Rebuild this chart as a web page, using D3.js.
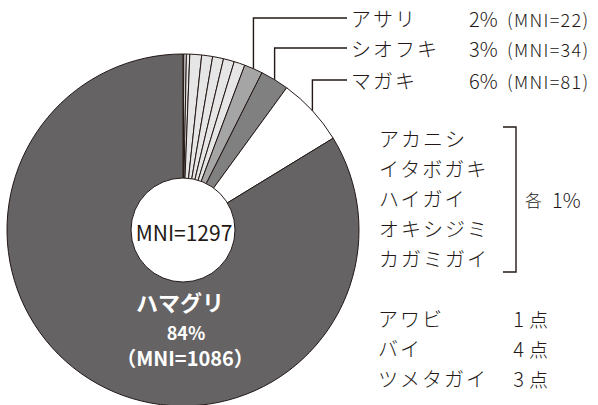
<!DOCTYPE html>
<html lang="ja">
<head>
<meta charset="utf-8">
<script src="https://cdn.jsdelivr.net/npm/d3@7"></script>
<style>
  html, body { margin: 0; padding: 0; background: #fff; }
  svg { display: block; }
  text { font-family: "Noto Sans CJK JP", "Noto Sans", sans-serif; fill: #231815; }
</style>
</head>
<body>
<svg id="chart" width="598" height="405"></svg>
<script>
// Shell-midden composition by MNI, clockwise from 12 o'clock
const species = ["アワビ", "ツメタガイ", "バイ",
                 "カガミガイ", "オキシジミ", "ハイガイ", "イタボガキ", "アカニシ",
                 "アサリ", "シオフキ", "マガキ", "ハマグリ"];
const mni     = [1, 3, 4,
                 14, 13, 13, 13, 13,
                 22, 34, 81, 1086];
const tone    = ["light", "light", "light",
                 "light", "light", "light", "light", "light",
                 "mid", "dark", "white", "main"];
const total = 1297;

// Labelled slices on the right with leader lines
const calloutNames = ["アサリ", "シオフキ", "マガキ"];
const calloutPct   = ["2%", "3%", "6%"];
const calloutMNI   = ["(MNI=22)", "(MNI=34)", "(MNI=81)"];

// 1% group and small counts
const onePctGroup  = ["アカニシ", "イタボガキ", "ハイガイ", "オキシジミ", "カガミガイ"];
const countNames   = ["アワビ", "バイ", "ツメタガイ"];
const countValues  = [1, 4, 3];

const fills = { light: "#e6e6e6", mid: "#a6a5a5", dark: "#818080", white: "#ffffff", main: "#656364" };
const ink = "#231815";

const svg = d3.select("#chart");
const cx = 183, cy = 230, R = 176, r0 = 52;
const g = svg.append("g").attr("transform", `translate(${cx},${cy})`);

const pie = d3.pie().sort(null).value(d => d.v).startAngle(0).endAngle(2 * Math.PI);
const data = species.map((s, i) => ({ name: s, v: mni[i], tone: tone[i] }));
const arcs = pie(data);
const arc = d3.arc().innerRadius(0).outerRadius(R);

g.selectAll("path.slice")
  .data(arcs)
  .join("path")
  .attr("class", "slice")
  .attr("d", arc)
  .attr("fill", d => fills[d.data.tone])
  .attr("stroke", ink)
  .attr("stroke-width", 1)
  .attr("stroke-linejoin", "round");

// centre hole
g.append("circle").attr("r", r0).attr("fill", "#fff").attr("stroke", ink).attr("stroke-width", 1);
g.append("text").attr("x", 1).attr("y", 2)
  .attr("text-anchor", "middle").attr("dominant-baseline", "central")
  .attr("font-size", 21).attr("font-weight", 400)
  .text("MNI=" + total);

// main slice label
const mainLabel = g.append("g");
mainLabel.append("text").attr("x", -3).attr("y", 71).attr("text-anchor", "middle").attr("dominant-baseline", "central")
  .attr("font-size", 22).attr("font-weight", 700).style("fill", "#fff").text("ハマグリ");
mainLabel.append("text").attr("x", 3).attr("y", 102).attr("text-anchor", "middle").attr("dominant-baseline", "central")
  .attr("font-size", 18).attr("font-weight", 700).style("fill", "#fff")
  .text(Math.round(mni[11] / total * 100) + "%");
mainLabel.append("text").attr("x", 2).attr("y", 127).attr("text-anchor", "middle").attr("dominant-baseline", "central")
  .attr("font-size", 20).attr("font-weight", 700).style("fill", "#fff").text("（MNI=" + mni[11] + "）");

// callouts with leader lines
const rowY = [18, 48, 80];
calloutNames.forEach((name, i) => {
  const a = arcs.find(d => d.data.name === name);
  const mid = (a.startAngle + a.endAngle) / 2;
  const x = cx + R * Math.sin(mid);
  const y = cy - R * Math.cos(mid);
  svg.append("path")
    .attr("d", `M${x},${y}V${rowY[i]}H347`)
    .attr("fill", "none").attr("stroke", ink).attr("stroke-width", 1.4);
  svg.append("text").attr("x", 351).attr("y", rowY[i]).attr("dominant-baseline", "central")
    .attr("font-size", 20).attr("font-weight", 300).attr("letter-spacing", 2).text(name);
  svg.append("text").attr("x", 469).attr("y", rowY[i]).attr("dominant-baseline", "central")
    .attr("font-size", 20).attr("font-weight", 300).text(calloutPct[i]);
  svg.append("text").attr("x", 507).attr("y", rowY[i] + 1).attr("dominant-baseline", "central")
    .attr("font-size", 18).attr("font-weight", 300).attr("letter-spacing", 1.3).text(calloutMNI[i]);
});

// 1% group with bracket
onePctGroup.forEach((name, i) => {
  svg.append("text").attr("x", 379).attr("y", 138 + i * 30).attr("dominant-baseline", "central")
    .attr("font-size", 20).attr("font-weight", 300).attr("letter-spacing", 2).text(name);
});
svg.append("path").attr("d", "M503,127H516V272H503")
  .attr("fill", "none").attr("stroke", ink).attr("stroke-width", 1.4);
svg.append("text").attr("x", 525).attr("y", 199).attr("dominant-baseline", "central")
  .attr("font-size", 17).attr("font-weight", 300).text("各");
svg.append("text").attr("x", 552).attr("y", 199).attr("dominant-baseline", "central")
  .attr("font-size", 20).attr("font-weight", 300).text("1%");

// small counts
countNames.forEach((name, i) => {
  const y = 318 + i * 30;
  svg.append("text").attr("x", 378).attr("y", y).attr("dominant-baseline", "central")
    .attr("font-size", 20).attr("font-weight", 300).attr("letter-spacing", 2).text(name);
  svg.append("text").attr("x", 524).attr("y", y).attr("text-anchor", "end").attr("dominant-baseline", "central")
    .attr("font-size", 20).attr("font-weight", 300).text(countValues[i]);
  svg.append("text").attr("x", 529).attr("y", y).attr("dominant-baseline", "central")
    .attr("font-size", 19).attr("font-weight", 300).text("点");
});
</script>
</body>
</html>
